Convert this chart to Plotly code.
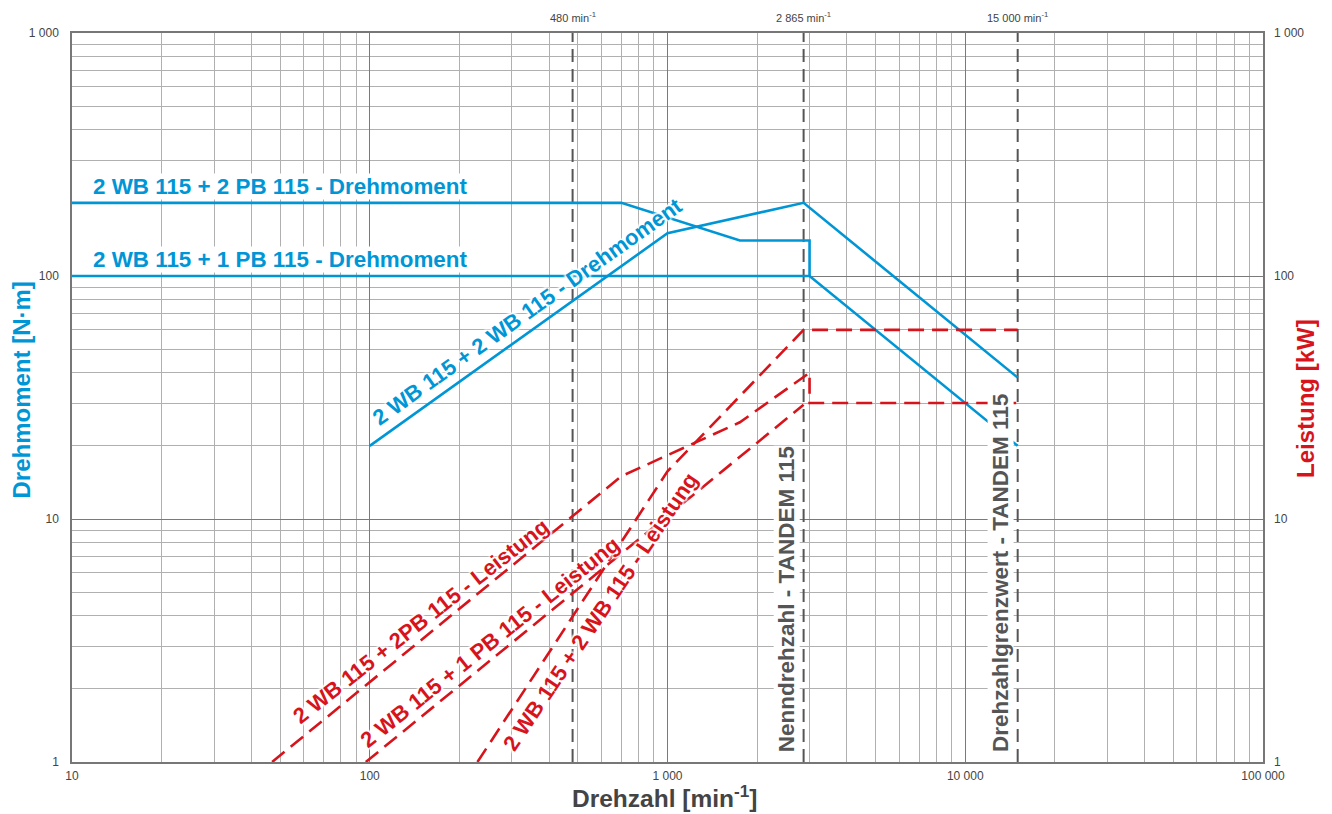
import math
import plotly.graph_objects as go

BLUE = "#0096D6"
RED = "#D7141C"
GRAY = "#555555"
FONT = "Liberation Sans, Arial, sans-serif"
HALO = "2px 0 2px #fff, -2px 0 2px #fff, 0 2px 2px #fff, 0 -2px 2px #fff, 0 0 3px #fff"

# ---- data: torque (N·m) vs speed (min^-1) ----
t_2pb_x = [10, 700, 1750, 3000, 3000]
t_2pb_y = [200, 200, 140, 140, 100]
t_1pb_x = [10, 3000, 15000]
t_1pb_y = [100, 100, 20]
t_2wb_x = [100, 1000, 2865, 15000]
t_2wb_y = [20, 150, 200, 38.2]

# ---- data: power (kW) vs speed ----
p_2pb_x = [47, 700, 1750, 3000, 3000, 15000]
p_2pb_y = [1, 15, 25, 40, 30, 30]
p_1pb_x = [97, 2865]
p_1pb_y = [1, 29.5]
p_2wb_x = [230, 1000, 2865, 15000]
p_2wb_y = [1, 15.7, 60, 60]

ref_speeds = [480, 2865, 15000]
ref_labels = ["480 min<sup>-1</sup>", "2 865 min<sup>-1</sup>", "15 000 min<sup>-1</sup>"]

x_ticks = [10, 100, 1000, 10000, 100000]
x_ticktext = ["10", "100", "1 000", "10 000", "100 000"]
y_ticks = [1, 10, 100, 1000]
y_ticktext = ["1", "10", "100", "1 000"]

x_minor = [m * 10 ** k for k in range(1, 5) for m in range(2, 10)]
y_minor = [m * 10 ** k for k in range(0, 3) for m in range(2, 10)]

W, H = 1332, 814
L, R, T, B = 71.5, 69, 33, 52
PW, PH = W - L - R, H - T - B


def px(xp):
    return (xp - L) / PW


def py(yp):
    return (H - B - yp) / PH


fig = go.Figure()

# reference speed lines
for s in ref_speeds:
    fig.add_trace(go.Scatter(x=[s, s], y=[1, 1000], mode="lines",
                             line=dict(color=GRAY, width=2, dash="13px,7px"),
                             showlegend=False, hoverinfo="skip"))

# torque
for xs, ys in [(t_2pb_x, t_2pb_y), (t_1pb_x, t_1pb_y), (t_2wb_x, t_2wb_y)]:
    fig.add_trace(go.Scatter(x=xs, y=ys, mode="lines",
                             line=dict(color=BLUE, width=2.6),
                             showlegend=False))
# power
for xs, ys in [(p_2pb_x, p_2pb_y), (p_1pb_x, p_1pb_y), (p_2wb_x, p_2wb_y)]:
    fig.add_trace(go.Scatter(x=xs, y=ys, mode="lines", yaxis="y2",
                             line=dict(color=RED, width=2.6, dash="16px,8px"),
                             showlegend=False))

tickfont = dict(family=FONT, size=12, color="#444444")
fig.update_layout(
    width=W, height=H,
    margin=dict(l=L, r=R, t=T, b=B, autoexpand=False),
    plot_bgcolor="white", paper_bgcolor="white",
    xaxis=dict(type="log", range=[1, 5], tickmode="array", tickvals=x_ticks,
               ticktext=x_ticktext, tickfont=tickfont, showgrid=True,
               gridcolor="#7a7a7a", gridwidth=1, showline=True, mirror=True,
               linecolor="#777777", linewidth=1.5, ticks="", zeroline=False,
               automargin=False, ticklabelstandoff=2,
               minor=dict(tickmode="array", tickvals=x_minor, showgrid=True,
                          gridcolor="#b0b0b0", gridwidth=1)),
    yaxis=dict(type="log", range=[0, 3], tickmode="array", tickvals=y_ticks,
               ticktext=y_ticktext, tickfont=tickfont, showgrid=True,
               gridcolor="#7a7a7a", gridwidth=1, showline=True, mirror=True,
               linecolor="#777777", linewidth=1.5, ticks="", zeroline=False,
               automargin=False, ticklabelstandoff=9,
               minor=dict(tickmode="array", tickvals=y_minor, showgrid=True,
                          gridcolor="#b0b0b0", gridwidth=1)),
    yaxis2=dict(type="log", range=[0, 3], overlaying="y", side="right",
                tickmode="array", tickvals=y_ticks, ticktext=y_ticktext,
                tickfont=tickfont, showgrid=False, ticks="", zeroline=False,
                automargin=False, ticklabelstandoff=10),
)

ann = []


def add(text, x, y, color, size=22, angle=0, xanchor="center", bg="white", halo=False):
    font = dict(family=FONT, size=size, color=color)
    if halo:
        font["shadow"] = HALO
    a = dict(text=text, x=px(x), y=py(y), xref="paper", yref="paper",
             showarrow=False, textangle=angle, xanchor=xanchor, yanchor="middle",
             font=font, borderpad=0)
    if bg:
        a["bgcolor"] = bg
    ann.append(a)


add("<b>2 WB 115 + 2 PB 115 - Drehmoment</b>", 92, 186, BLUE, size=22.4, xanchor="left")
add("<b>2 WB 115 + 1 PB 115 - Drehmoment</b>", 92, 259, BLUE, size=22.4, xanchor="left")
add("<b>2 WB 115 + 2 WB 115 - Drehmoment</b>", 527, 311, BLUE, angle=-35.5, bg=None, halo=True)
add("<b>2 WB 115 + 2PB 115 - Leistung</b>", 420, 621, RED, angle=-38, bg=None, halo=True)
add("<b>2 WB 115 + 1 PB 115 - Leistung</b>", 489, 642, RED, angle=-38.5, bg=None, halo=True)
add("<b>2 WB 115 + 2 WB 115 - Leistung</b>", 600, 611, RED, angle=-56, bg=None, halo=True)
add("<b>Nenndrehzahl - TANDEM 115</b>", 786, 599, GRAY, size=22.5, angle=-90)
add("<b>Drehzahlgrenzwert - TANDEM 115</b>", 1000, 573, GRAY, size=22.5, angle=-90)

# axis titles
add("<b>Drehmoment [N·m]</b>", 20, 390, BLUE, size=24, angle=-90, bg=None)
add("<b>Leistung [kW]</b>", 1305, 398, RED, size=24, angle=-90, bg=None)
add("<b>Drehzahl [min<sup>-1</sup>]</b>", 664, 796, "#444444", size=24.5, bg=None)

# top labels of reference speeds (annotation x on a log axis takes log10)
for s, t in zip(ref_speeds, ref_labels):
    ann.append(dict(text=t, x=math.log10(s), xref="x", y=py(17), yref="paper",
                    showarrow=False, xanchor="center", yanchor="middle",
                    font=dict(family=FONT, size=11, color="#444444")))

fig.update_layout(annotations=ann)
fig.write_html("out.html", config={"displayModeBar": False},
               post_script="document.body.style.margin='0';document.body.style.padding='0';")
